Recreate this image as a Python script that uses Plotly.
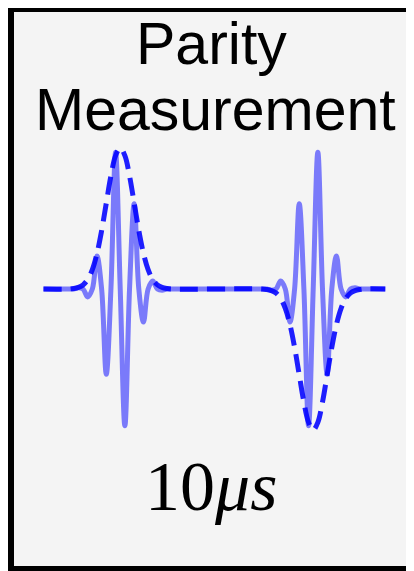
import plotly.graph_objects as go

# ---- data (time in quarter-period units, amplitude normalised) ----
solid_t = [0, 4.5, 5.5, 6.5,
           7.5, 8.5, 9.5, 10.5, 11.5, 12.5, 13.5, 14.5, 15.5, 16.5,
           17.5, 18.5, 19.5, 20.5, 21.5, 22.5, 23.5, 24.5, 25.5,
           26.5, 27.5, 28.5,
           46, 47, 48,
           49, 50, 51, 52, 53, 54, 55, 56, 57, 58,
           59, 60, 61, 62, 63, 64, 65, 66, 67,
           68, 69, 70, 73.5]
solid_v = [0, 0, 0, 0,
           0.008, 0, -0.056, 0, 0.234, 0, -0.604, 0, 0.970, 0,
           -0.970, 0, 0.604, 0, -0.234, 0, 0.056, 0, -0.008,
           0, 0, 0,
           0, 0, 0,
           -0.008, 0, 0.056, 0, -0.234, 0, 0.604, 0, -0.970, 0,
           0.970, 0, -0.604, 0, 0.234, 0, -0.056, 0, 0.008,
           0, 0, 0, 0]

env_t = [0, 5.5,
         6.5, 7.5, 8.5, 9.5, 10.5, 11.5, 12.5, 13.5, 14.5, 15.5, 16.5,
         17.5, 18.5, 19.5, 20.5, 21.5, 22.5, 23.5, 24.5, 25.5, 26.5,
         27.5, 47,
         48, 49, 50, 51, 52, 53, 54, 55, 56, 57, 58,
         59, 60, 61, 62, 63, 64, 65, 66, 67, 68,
         69, 73.5]
env_v = [0, 0,
         0.004, 0.012, 0.029, 0.067, 0.137, 0.252, 0.414, 0.609, 0.802, 0.946, 1.0,
         0.946, 0.802, 0.609, 0.414, 0.252, 0.137, 0.067, 0.029, 0.012, 0.004,
         0, 0,
         -0.004, -0.012, -0.029, -0.067, -0.137, -0.252, -0.414, -0.609, -0.802, -0.946, -1.0,
         -0.946, -0.802, -0.609, -0.414, -0.252, -0.137, -0.067, -0.029, -0.012, -0.004,
         0, 0]

title_lines = ["Parity", "Measurement"]
duration_label = "10<i>μs</i>"

assert len(solid_t) == len(solid_v)
assert len(env_t) == len(env_v)

W, H = 414, 571

fig = go.Figure()
fig.add_trace(go.Scatter(
    x=solid_t, y=solid_v, mode="lines",
    line=dict(color="rgba(0,0,255,0.5)", width=5, shape="spline", smoothing=1.0),
    hoverinfo="skip", showlegend=False))
fig.add_trace(go.Scatter(
    x=env_t, y=env_v, mode="lines",
    line=dict(color="rgba(0,0,255,0.88)", width=5, dash="18px,9px",
              shape="spline", smoothing=1.0),
    hoverinfo="skip", showlegend=False))

# box
fig.add_shape(type="rect", xref="paper", yref="paper",
              x0=3 / W, x1=411 / W, y0=1 - 561 / H, y1=1 - 1 / H,
              line=dict(color="black", width=6), fillcolor="#f4f4f4",
              layer="below")

title_font = dict(family="Liberation Sans, Arial", size=59, color="black")
fig.add_annotation(text=title_lines[0], xref="paper", yref="paper",
                   x=203 / W, y=1 - 36 / H, xanchor="center", yanchor="middle",
                   showarrow=False, font=title_font)
fig.add_annotation(text=title_lines[1], xref="paper", yref="paper",
                   x=207 / W, y=1 - 102 / H, xanchor="center", yanchor="middle",
                   showarrow=False, font=title_font)
fig.add_annotation(text=duration_label, xref="paper", yref="paper",
                   x=203 / W, y=1 - 478 / H, xanchor="center", yanchor="middle",
                   showarrow=False,
                   font=dict(family="Liberation Serif, Times New Roman", size=70, color="black"))

px_per_t = 4.65
t0 = -35.5 / px_per_t
px_per_v = 141.0
v_top = 281 / px_per_v

fig.update_layout(
    width=W, height=H,
    margin=dict(l=0, r=0, t=0, b=0),
    paper_bgcolor="white", plot_bgcolor="rgba(0,0,0,0)",
    xaxis=dict(range=[t0, t0 + W / px_per_t], visible=False, fixedrange=True),
    yaxis=dict(range=[v_top - H / px_per_v, v_top], visible=False, fixedrange=True),
)

fig.write_html("out.html")
